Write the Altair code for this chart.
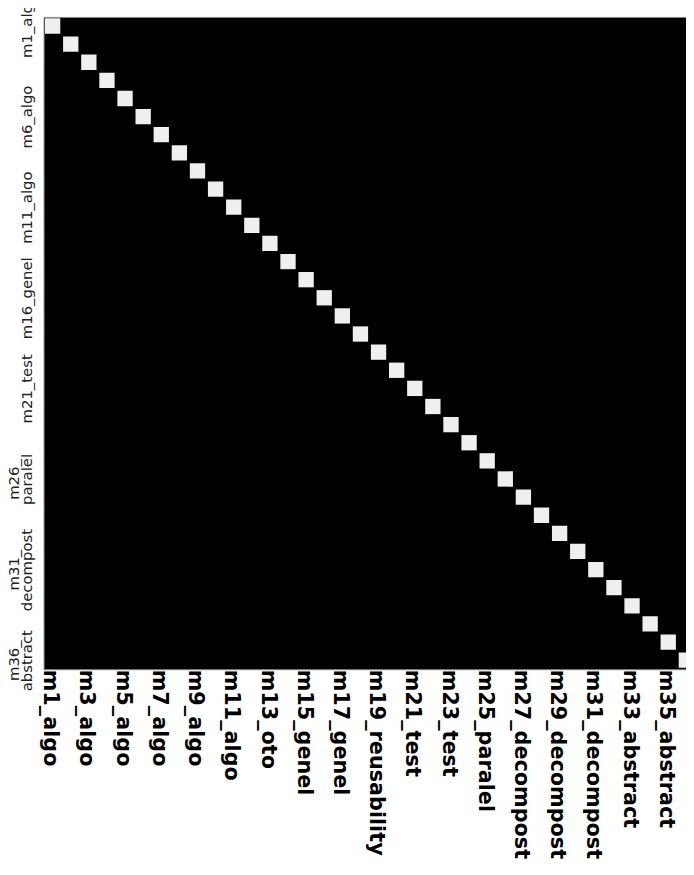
import altair as alt
import pandas as pd

names = ["m1_algo", "m2_algo", "m3_algo", "m4_algo", "m5_algo", "m6_algo",
         "m7_algo", "m8_algo", "m9_algo", "m10_algo", "m11_algo", "m12_oto",
         "m13_oto", "m14_oto", "m15_genel", "m16_genel", "m17_genel",
         "m18_reusability", "m19_reusability", "m20_test", "m21_test",
         "m22_test", "m23_test", "m24_paralel", "m25_paralel", "m26_paralel",
         "m27_decompost", "m28_decompost", "m29_decompost", "m30_decompost",
         "m31_decompost", "m32_abstract", "m33_abstract", "m34_abstract",
         "m35_abstract", "m36_abstract"]

# correlation: 1 on the diagonal, ~0 elsewhere
diag_values = [1.0, 1.0, 1.0, 1.0, 1.0, 1.0, 1.0, 1.0, 1.0, 1.0, 1.0, 1.0,
               1.0, 1.0, 1.0, 1.0, 1.0, 1.0, 1.0, 1.0, 1.0, 1.0, 1.0, 1.0,
               1.0, 1.0, 1.0, 1.0, 1.0, 1.0, 1.0, 1.0, 1.0, 1.0, 1.0, 1.0]
off_diag_value = 0.0

x_tick_names = names[0::2]
y_tick_names = names[0::5]

rows = []
for i, r in enumerate(names):
    for j, c in enumerate(names):
        rows.append({"row": r, "col": c, "col_pos": j + 0.5,
                     "value": diag_values[i] if i == j else off_diag_value})
df = pd.DataFrame(rows)

name_array = "[" + ",".join("'" + n + "'" for n in names) + "]"
x_label_expr = name_array + "[floor(datum.value)]"
y_label_expr = ("length(datum.label) > 9 ? [slice(datum.label, 0, indexof(datum.label, '_') + 1), "
                "slice(datum.label, indexof(datum.label, '_') + 1)] : datum.label")

chart = alt.Chart(df).mark_square(size=240, filled=True, opacity=1, clip=True).encode(
    x=alt.X("col_pos:Q",
            scale=alt.Scale(domain=[0, 35.48], nice=False, zero=False),
            axis=alt.Axis(values=[names.index(n) + 0.5 for n in x_tick_names],
                          labelExpr=x_label_expr, title=None, ticks=False,
                          domain=False, grid=False, labelAngle=90,
                          labelAlign="left", labelBaseline="middle",
                          labelFont="DejaVu Sans", labelFontSize=21,
                          labelFontWeight="bold",
                          labelColor="#000000", labelPadding=0,
                          labelOffset=-3, labelFlush=False,
                          labelOverlap=False, labelLimit=400)),
    y=alt.Y("row:N", sort=names,
            scale=alt.Scale(domain=names, paddingInner=0, paddingOuter=0),
            axis=alt.Axis(values=y_tick_names, labelExpr=y_label_expr,
                          title=None, ticks=False, domain=False, grid=False,
                          labelAngle=-90, labelAlign="center",
                          labelBaseline="bottom", labelFont="DejaVu Sans",
                          labelFontSize=15, labelColor="#222222",
                          labelPadding={"condition": {"test": "length(datum.label) > 9", "value": 22},
                                        "value": 9},
                          labelLineHeight=13,
                          labelOverlap=False, labelLimit=400)),
    color=alt.Color("value:Q",
                    scale=alt.Scale(domain=[0, 1], range=["#000000", "#efefef"]),
                    legend=None),
).properties(
    width=650,
    height=660,
    autosize=alt.AutoSizeParams(type="none"),
    padding={"left": 36, "top": 4, "right": 0, "bottom": 190},
).configure_view(
    fill="#000000", stroke="#888888", strokeWidth=1
)

chart.save("out.html", embed_options={"renderer": "svg", "actions": False})
